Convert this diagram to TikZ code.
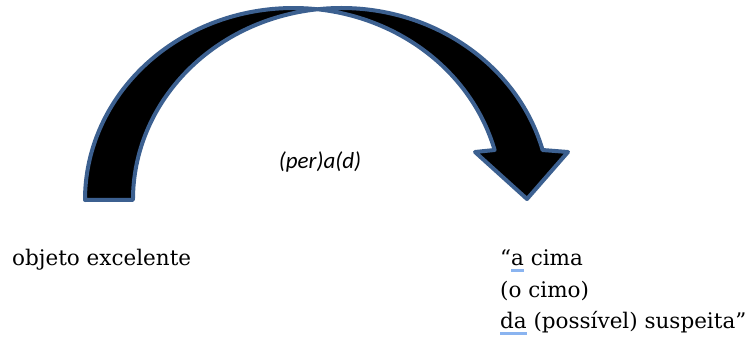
\documentclass[tikz,border=0pt]{standalone}
\usepackage{fontspec}
\setmainfont{DejaVu Serif}
\newfontfamily\arcfont{Carlito}

\definecolor{outline}{HTML}{3C6090}
\definecolor{spellblue}{HTML}{8AB4F0}
\newcommand\spellmark[1]{\setbox0\hbox{#1}\rlap{\color{spellblue}\rule[-7pt]{\wd0}{3pt}}\box0\relax}

\tikzstyle{wordtext} = [inner sep=0pt, anchor=base west, font=\fontsize{21.5}{31.5}\selectfont]
\tikzstyle{arctext} = [inner sep=0pt, anchor=base, font=\fontsize{23}{27}\selectfont\arcfont\itshape]
\tikzstyle{bow} = [draw=outline, fill=black, line width=4pt, line join=round]

\begin{document}
\begin{tikzpicture}[x=1pt,y=1pt]
\useasboundingbox (0,0) rectangle (753,338);
\draw[bow] (85,138)
  arc[start angle=180, end angle=83.388, x radius=208.4pt, y radius=192pt]
  arc[start angle=96.612, end angle=15.09, x radius=208.4pt, y radius=192pt]
  -- (568,186) -- (527,139) -- (475,186) -- (494.6,188)
  arc[start angle=15.09, end angle=83.388, x radius=208.4pt, y radius=192pt]
  arc[start angle=96.612, end angle=180, x radius=208.4pt, y radius=192pt]
  -- cycle;
\node (perad) [arctext, xshift=320pt, yshift=169pt] {(per)a(d)};
\node (objeto) [wordtext, xshift=12pt, yshift=73pt] {objeto excelente};
\node (cima) [wordtext, xshift=500pt, yshift=73pt] {“\spellmark{a} cima};
\node (cimo) [wordtext, xshift=500pt, yshift=41pt] {(o cimo)};
\node (suspeita) [wordtext, xshift=500pt, yshift=10pt] {\spellmark{da} (possível) suspeita”};
\end{tikzpicture}
\end{document}
